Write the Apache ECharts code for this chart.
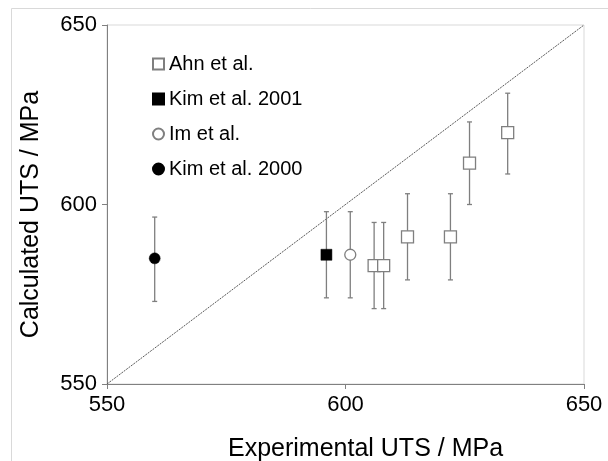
<!DOCTYPE html>
<html>
<head>
<meta charset="utf-8">
<script src="https://cdn.jsdelivr.net/npm/echarts@6/dist/echarts.min.js"></script>
<style>html,body{margin:0;padding:0;background:#fff;}#c{width:608px;height:461px;}</style>
</head>
<body>
<div id="c"></div>
<script>
// Data
var ahnX = [606, 608, 613, 622, 626, 634];
var ahnY = [583, 583, 591, 591, 611.5, 620];
var ahnLow = [571, 571, 579, 579, 600, 608.5];
var ahnHigh = [595, 595, 603, 603, 623, 631];

var kim2001X = [596];
var kim2001Y = [586];
var kim2001Low = [574];
var kim2001High = [598];

var imX = [601];
var imY = [586];
var imLow = [574];
var imHigh = [598];

var kim2000X = [560];
var kim2000Y = [585];
var kim2000Low = [573];
var kim2000High = [596.5];

var diagX = [550, 650];
var diagY = [550, 650];
var axisTicks = [550, 600, 650];

function pts(xs, ys) { return xs.map(function (x, i) { return [x, ys[i]]; }); }
function errs(xs, lo, hi) { return xs.map(function (x, i) { return [x, lo[i], hi[i]]; }); }

var errData = []
  .concat(errs(ahnX, ahnLow, ahnHigh))
  .concat(errs(kim2001X, kim2001Low, kim2001High))
  .concat(errs(imX, imLow, imHigh))
  .concat(errs(kim2000X, kim2000Low, kim2000High));

var FONT = 'Liberation Sans, Arial, sans-serif';
var GRAY = '#7f7f7f';

var chart = echarts.init(document.getElementById('c'), null, { renderer: 'canvas' });
chart.setOption({
  animation: false,
  backgroundColor: '#fff',
  graphic: [{
    type: 'rect', silent: true, z: -10,
    shape: { x: 11.5, y: 8.5, width: 700, height: 600 },
    style: { fill: 'none', stroke: '#d9d9d9', lineWidth: 1 }
  }],
  grid: {
    left: 107, right: 24, top: 25, bottom: 77,
    containLabel: false, outerBoundsMode: 'none',
    show: true, borderColor: '#d9d9d9', borderWidth: 1, backgroundColor: 'transparent'
  },
  legend: {
    orient: 'vertical', left: 147, top: 49, itemGap: 15,
    itemWidth: 11, itemHeight: 11,
    textStyle: { fontFamily: FONT, fontSize: 20, color: '#000' },
    data: ['Ahn et al.', 'Kim et al. 2001', 'Im et al.', 'Kim et al. 2000']
  },
  xAxis: {
    type: 'value', min: axisTicks[0], max: axisTicks[2], interval: 50,
    name: 'Experimental UTS / MPa', nameLocation: 'middle', nameGap: 53,
    nameTextStyle: { fontFamily: FONT, fontSize: 25, color: '#000', padding: [0, 0, 0, 40] },
    axisLine: { show: true, lineStyle: { color: '#808080', width: 1 } },
    axisTick: { show: true, length: 5, lineStyle: { color: '#808080' } },
    axisLabel: { fontFamily: FONT, fontSize: 22, color: '#000', margin: 10 },
    splitLine: { show: false }
  },
  yAxis: {
    type: 'value', min: axisTicks[0], max: axisTicks[2], interval: 50,
    name: 'Calculated UTS / MPa', nameLocation: 'middle', nameGap: 63,
    nameTextStyle: { fontFamily: FONT, fontSize: 25, color: '#000', padding: [0, 20, 0, 0] },
    axisLine: { show: true, lineStyle: { color: '#808080', width: 1 } },
    axisTick: { show: true, length: 5, lineStyle: { color: '#808080' } },
    axisLabel: { fontFamily: FONT, fontSize: 22, color: '#000', margin: 10 },
    splitLine: { show: false }
  },
  series: [
    {
      type: 'line', name: 'diag', data: pts(diagX, diagY), symbol: 'none', silent: true,
      lineStyle: { color: '#595959', width: 1, type: [2, 1] }, z: 1
    },
    {
      type: 'custom', name: 'err', data: errData, z: 2, silent: true,
      renderItem: function (params, api) {
        var x = api.value(0);
        var lo = api.coord([x, api.value(1)]);
        var hi = api.coord([x, api.value(2)]);
        var w = 2.5;
        var st = { stroke: GRAY, lineWidth: 1.3, fill: 'none' };
        return {
          type: 'group', children: [
            { type: 'line', shape: { x1: lo[0], y1: lo[1], x2: hi[0], y2: hi[1] }, style: st },
            { type: 'line', shape: { x1: lo[0] - w, y1: lo[1], x2: lo[0] + w, y2: lo[1] }, style: st },
            { type: 'line', shape: { x1: hi[0] - w, y1: hi[1], x2: hi[0] + w, y2: hi[1] }, style: st }
          ]
        };
      }
    },
    {
      type: 'scatter', name: 'Ahn et al.', data: pts(ahnX, ahnY), symbol: 'rect', symbolSize: 12, z: 3,
      itemStyle: { color: '#fff', borderColor: GRAY, borderWidth: 1.3, opacity: 1 }
    },
    {
      type: 'scatter', name: 'Kim et al. 2001', data: pts(kim2001X, kim2001Y), symbol: 'rect', symbolSize: 11, z: 3,
      itemStyle: { color: '#000', borderColor: '#000', borderWidth: 0.5, opacity: 1 }
    },
    {
      type: 'scatter', name: 'Im et al.', data: pts(imX, imY), symbol: 'circle', symbolSize: 11, z: 3,
      itemStyle: { color: '#fff', borderColor: GRAY, borderWidth: 1.3, opacity: 1 }
    },
    {
      type: 'scatter', name: 'Kim et al. 2000', data: pts(kim2000X, kim2000Y), symbol: 'circle', symbolSize: 11, z: 3,
      itemStyle: { color: '#000', borderColor: '#000', borderWidth: 0.5, opacity: 1 }
    }
  ]
});
</script>
</body>
</html>
